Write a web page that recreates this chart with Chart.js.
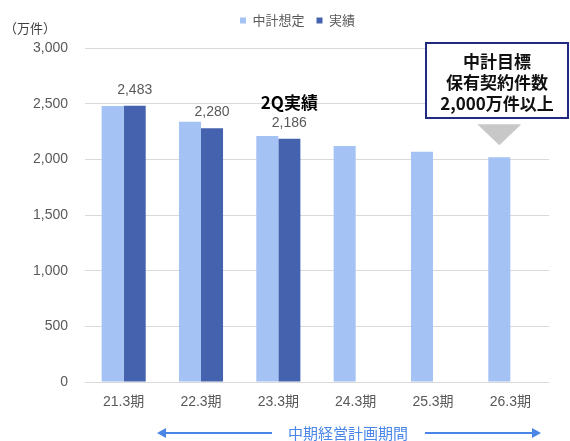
<!DOCTYPE html>
<html>
<head>
<meta charset="utf-8">
<script src="https://cdn.jsdelivr.net/npm/chart.js@4.4.1/dist/chart.umd.min.js"></script>
<style>
  html, body { margin: 0; padding: 0; background: #fff; }
</style>
</head>
<body>
<canvas id="chart" width="570" height="441"></canvas>
<script>
var periods = ['21.3期', '22.3期', '23.3期', '24.3期', '25.3期', '26.3期'];
var planValues = [2480, 2340, 2210, 2120, 2070, 2020];
var actualValues = [2483, 2280, 2186, null, null, null];
var yTicks = [0, 500, 1000, 1500, 2000, 2500, 3000];
var seriesNames = ['中計想定', '実績'];
var targetLines = ['中計目標', '保有契約件数', '2,000万件以上'];
var periodCaption = '中期経営計画期間';
var latestNote = '2Q実績';
var unitLabel = '（万件）';

var FONT = '"Liberation Sans", "Noto Sans CJK JP", sans-serif';
var JP_FONT = '"Noto Sans CJK JP", "Liberation Sans", sans-serif';

// center the legend over the plot rather than the whole canvas
var legendShift = {
    id: 'legendShift',
    afterLayout: function (chart) {
        var lg = chart.legend;
        if (!lg) return;
        var dx = 46 / 2;
        lg.left += dx;
        lg.right += dx;
    }
};

// labels, target callout and period arrows drawn on top of the bars
var overlay = {
    id: 'overlay',
    afterDatasetsDraw: function (chart) {
        var ctx = chart.ctx;
        var planMeta = chart.getDatasetMeta(0);
        var actualMeta = chart.getDatasetMeta(1);
        ctx.save();

        // unit
        ctx.fillStyle = '#404040';
        ctx.font = '13px ' + JP_FONT;
        ctx.textAlign = 'left';
        ctx.textBaseline = 'middle';
        ctx.fillText(unitLabel, 4, 28);

        // values over the actual bars
        var last = -1;
        ctx.fillStyle = '#595959';
        ctx.font = '14px ' + FONT;
        ctx.textAlign = 'center';
        actualMeta.data.forEach(function (bar, i) {
            var v = actualValues[i];
            if (v == null) return;
            ctx.fillText(v.toLocaleString('en-US'), bar.x, bar.y - 16);
            last = i;
        });
        if (last >= 0) {
            var lb = actualMeta.data[last];
            ctx.fillStyle = '#000';
            ctx.font = 'bold 17px ' + JP_FONT;
            ctx.fillText(latestNote, lb.x, lb.y - 36);
        }

        // target callout
        ctx.fillStyle = '#fff';
        ctx.fillRect(426, 43, 142, 75);
        ctx.strokeStyle = '#1f2a80';
        ctx.lineWidth = 2;
        ctx.strokeRect(426, 43, 142, 75);
        ctx.fillStyle = '#111';
        ctx.font = 'bold 17px ' + JP_FONT;
        targetLines.forEach(function (t, i) {
            ctx.fillText(t, 497, 62 + i * 21);
        });

        // pointer down to the final plan bar
        var tb = planMeta.data[planMeta.data.length - 1];
        var tipY = tb.y - 12;
        ctx.fillStyle = '#c8c8c8';
        ctx.beginPath();
        ctx.moveTo(tb.x - 22, tipY - 21);
        ctx.lineTo(tb.x + 22, tipY - 21);
        ctx.lineTo(tb.x, tipY);
        ctx.closePath();
        ctx.fill();

        // plan period arrows
        var ay = 433;
        ctx.strokeStyle = '#4a86e8';
        ctx.fillStyle = '#4a86e8';
        ctx.lineWidth = 2;
        ctx.beginPath();
        ctx.moveTo(164, ay); ctx.lineTo(272, ay);
        ctx.moveTo(425, ay); ctx.lineTo(534, ay);
        ctx.stroke();
        ctx.beginPath();
        ctx.moveTo(157, ay); ctx.lineTo(166, ay - 5); ctx.lineTo(166, ay + 5); ctx.closePath();
        ctx.moveTo(541, ay); ctx.lineTo(532, ay - 5); ctx.lineTo(532, ay + 5); ctx.closePath();
        ctx.fill();
        ctx.font = '15px ' + JP_FONT;
        ctx.fillText(periodCaption, 348, ay);

        ctx.restore();
    }
};

new Chart(document.getElementById('chart'), {
    type: 'bar',
    data: {
        labels: periods,
        datasets: [{
            label: seriesNames[0],
            data: planValues,
            backgroundColor: '#a4c2f4',
            categoryPercentage: 0.57,
            barPercentage: 1
        }, {
            label: seriesNames[1],
            data: actualValues,
            backgroundColor: '#4462ad',
            categoryPercentage: 0.57,
            barPercentage: 1
        }]
    },
    options: {
        responsive: false,
        animation: false,
        layout: { padding: { top: 2, right: 21, bottom: 0, left: 0 } },
        plugins: {
            legend: {
                position: 'top',
                labels: {
                    boxWidth: 6,
                    boxHeight: 6,
                    padding: 12,
                    color: '#595959',
                    font: { size: 13, family: JP_FONT }
                }
            },
            // empty spacer between the legend and the plot
            subtitle: {
                display: true,
                text: '',
                weight: 500,
                font: { size: 1 },
                padding: { top: 0, bottom: 10 }
            },
            tooltip: { enabled: false }
        },
        scales: {
            x: {
                grid: { display: false },
                border: { display: false },
                ticks: { color: '#595959', font: { size: 14, family: FONT }, padding: 4 },
                afterFit: function (scale) { scale.height = 59; }
            },
            y: {
                min: 0,
                max: 3000,
                afterBuildTicks: function (scale) {
                    scale.ticks = yTicks.map(function (v) { return { value: v }; });
                },
                grid: { color: '#d9d9d9', drawTicks: false },
                border: { display: false },
                ticks: {
                    color: '#595959',
                    font: { size: 14, family: FONT },
                    padding: 17,
                    callback: function (v) { return v.toLocaleString('en-US'); }
                },
                afterFit: function (scale) { scale.width = 85; }
            }
        }
    },
    plugins: [legendShift, overlay]
});
</script>
</body>
</html>
